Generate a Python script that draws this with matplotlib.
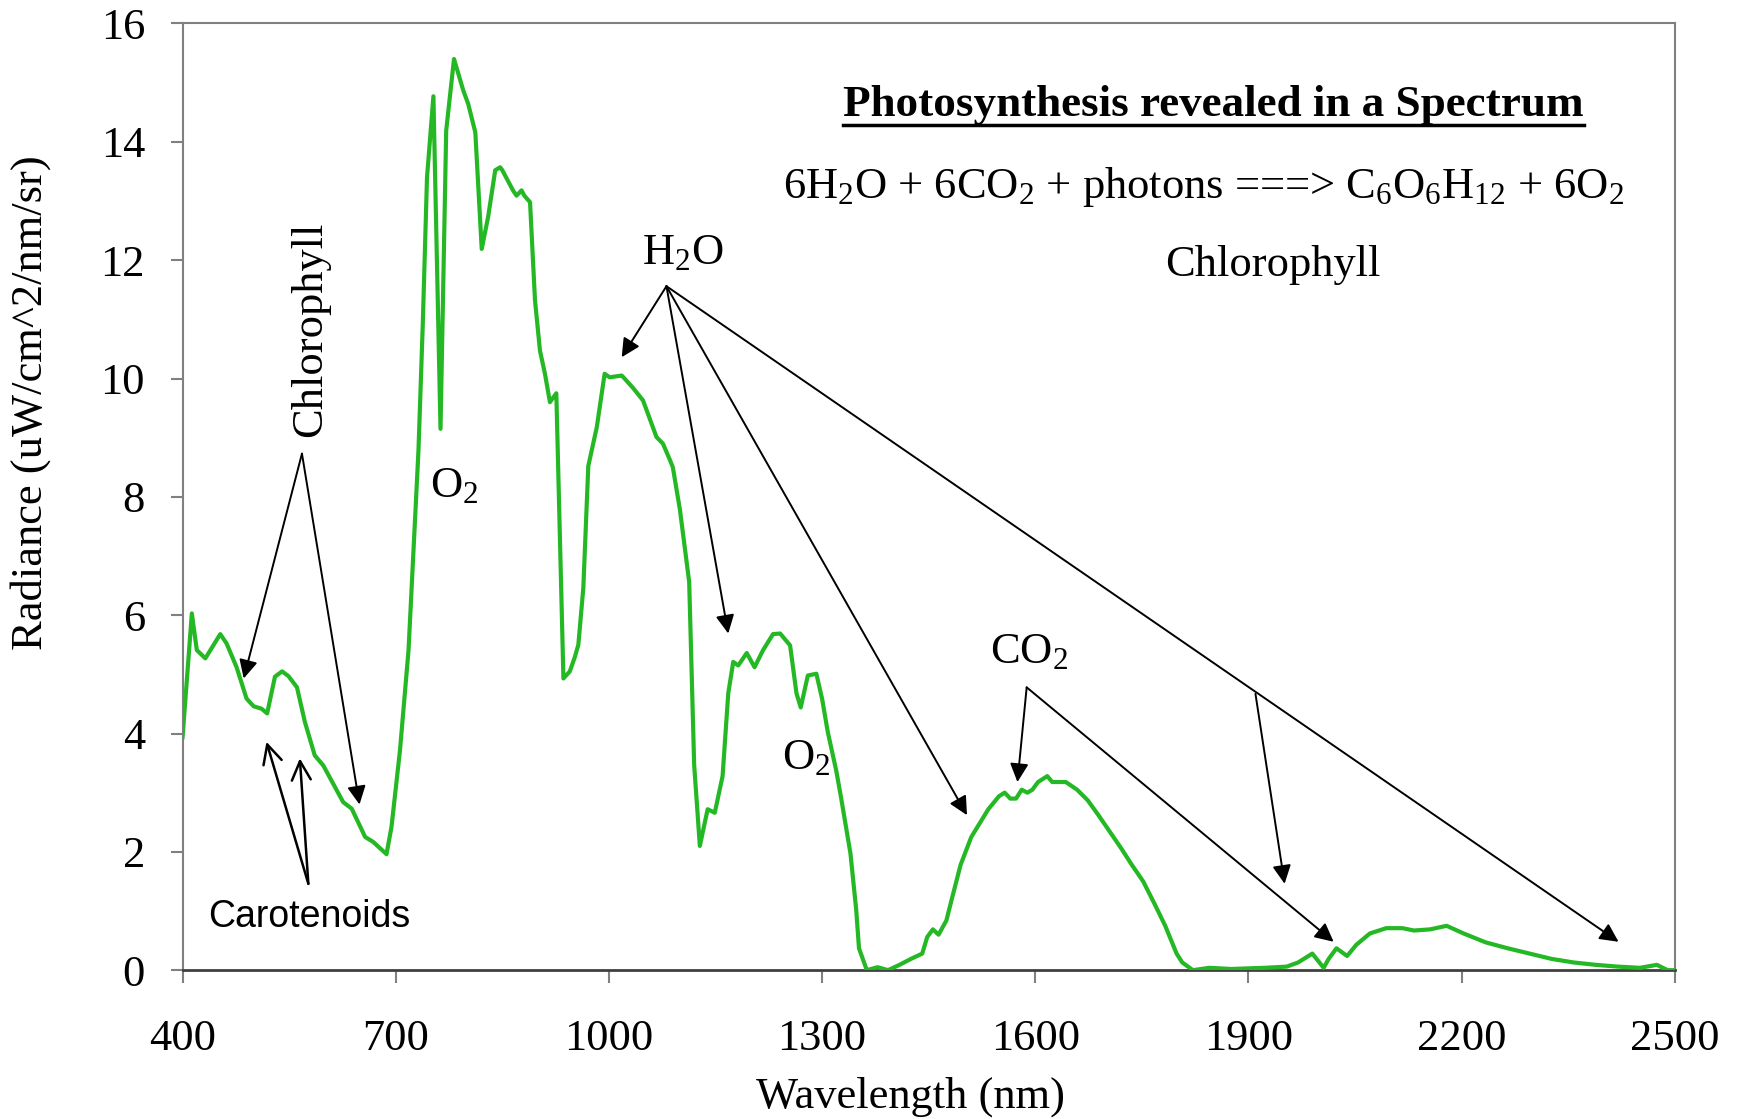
import matplotlib
matplotlib.use('Agg')
import matplotlib.pyplot as plt
from matplotlib.lines import Line2D

# spectrum
wavelength = [400, 413, 420, 432, 453, 462, 476, 490, 500, 511, 519, 530, 540, 549,
              561, 572, 586, 598, 612, 626, 638, 657, 668, 687, 694, 706, 718, 725,
              732, 738, 744, 753, 763, 771, 782, 795, 802, 812, 821, 830, 840, 847,
              850, 865, 870, 877, 881, 889, 896, 903, 910, 915, 917, 926, 936, 945,
              952, 957, 964, 971, 983, 994, 1001, 1018, 1022, 1034, 1048, 1067, 1076,
              1086, 1090, 1100, 1113, 1120, 1128, 1139, 1149, 1160, 1168, 1175, 1182,
              1194, 1205, 1217, 1231, 1241, 1255, 1264, 1270, 1280, 1292, 1300, 1308,
              1320, 1327, 1340, 1348, 1352, 1363, 1378, 1393, 1409, 1425, 1441, 1448,
              1456, 1464, 1475, 1483, 1495, 1510, 1534, 1549, 1557, 1565, 1573, 1581,
              1589, 1596, 1604, 1617, 1624, 1643, 1659, 1674, 1689, 1705, 1721, 1736,
              1752, 1768, 1783, 1799, 1807, 1822, 1845, 1876, 1923, 1954, 1970, 1990,
              2006, 2013, 2024, 2039, 2052, 2071, 2094, 2117, 2133, 2156, 2179, 2203,
              2234, 2265, 2296, 2327, 2358, 2389, 2420, 2451, 2475, 2490, 2500]
radiance = [3.94, 6.03, 5.41, 5.27, 5.68, 5.52, 5.12, 4.59, 4.46, 4.42, 4.34, 4.96, 5.05, 4.97,
            4.78, 4.20, 3.63, 3.46, 3.15, 2.84, 2.73, 2.25, 2.17, 1.96, 2.42, 3.72, 5.41, 7.10,
            8.79, 10.9, 13.4, 14.77, 9.15, 14.19, 15.40, 14.87, 14.64, 14.16, 12.19, 12.73, 13.52, 13.57,
            13.52, 13.18, 13.09, 13.18, 13.09, 12.98, 11.32, 10.47, 10.08, 9.74, 9.60, 9.75, 4.93, 5.05,
            5.29, 5.5, 6.46, 8.52, 9.18, 10.08, 10.02, 10.05, 10.0, 9.84, 9.63, 9.01, 8.90,
            8.62, 8.5, 7.78, 6.56, 3.47, 2.10, 2.72, 2.66, 3.28, 4.68, 5.21, 5.15,
            5.36, 5.12, 5.41, 5.68, 5.69, 5.49, 4.68, 4.44, 4.98, 5.01, 4.59, 4.03,
            3.37, 2.90, 1.97, 1.03, 0.37, 0.0, 0.05, 0.0, 0.09, 0.19, 0.28, 0.56,
            0.69, 0.60, 0.84, 1.22, 1.78, 2.25, 2.72, 2.94, 3.00, 2.90, 2.90, 3.05,
            3.00, 3.05, 3.18, 3.28, 3.18, 3.18, 3.05, 2.87, 2.62, 2.34, 2.06, 1.78,
            1.50, 1.12, 0.75, 0.28, 0.13, 0.0, 0.04, 0.02, 0.04, 0.06, 0.13, 0.28,
            0.04, 0.19, 0.37, 0.24, 0.43, 0.62, 0.71, 0.71, 0.67, 0.69, 0.75, 0.62,
            0.47, 0.37, 0.28, 0.19, 0.13, 0.09, 0.06, 0.04, 0.09, 0.0, 0.0]

x_ticks = [400, 700, 1000, 1300, 1600, 1900, 2200, 2500]
y_ticks = [0, 2, 4, 6, 8, 10, 12, 14, 16]

# annotation anchors (wavelength, radiance)
chl_apex = (568, 8.73)
chl_tips = [(486, 4.93), (649, 2.80)]
car_apex = (577, 1.46)
car_tips = [(518, 3.86), (565, 3.58)]
h2o_apex = (1081, 11.56)
h2o_tips = [(1018, 10.36), (1168, 5.69), (1504, 2.62), (2421, 0.48)]
h2o_branch = ((1910, 4.67), (1951, 1.46))
co2_apex = (1588, 4.78)
co2_tips = [(1575, 3.18), (2020, 0.48)]

plt.rcParams['font.family'] = ['Liberation Serif', 'DejaVu Serif']
plt.rcParams['mathtext.default'] = 'regular'

fig = plt.figure(figsize=(17.39, 11.19), dpi=100)
ax = fig.add_axes([0.105, 0.133, 0.858, 0.846])

ax.plot(wavelength, radiance, color='#25b825', lw=3, zorder=3)

ax.set_xlim(400, 2500)
ax.set_ylim(0, 16)
ax.set_xticks(x_ticks)
ax.set_yticks(y_ticks)
ax.tick_params(labelsize=32, direction='out', length=9, width=1.5, color='#808080')
ax.tick_params(axis='x', pad=26)
ax.tick_params(axis='y', pad=18)
for s in ax.spines.values():
    s.set_color('#808080')
    s.set_linewidth(1.5)
ax.spines['bottom'].set_color('#404040')
ax.spines['bottom'].set_linewidth(2)

ax.set_xlabel('Wavelength (nm)', fontsize=32)
ax.set_ylabel('Radiance (uW/cm^2/nm/sr)', fontsize=32)
ax.xaxis.set_label_coords(0.488, -0.112)
ax.yaxis.set_label_coords(-0.088, 0.60)


def arrow(tip, start, style='-|>', scale=28, lw=1.4):
    ax.annotate('', xy=tip, xytext=start,
                arrowprops=dict(arrowstyle=style, color='black', lw=lw,
                                mutation_scale=scale, shrinkA=0, shrinkB=0),
                zorder=4)


for t in chl_tips:
    arrow(t, chl_apex)
for t in car_tips:
    arrow(t, car_apex, style='->', scale=34, lw=1.8)
for t in h2o_tips:
    arrow(t, h2o_apex)
arrow(h2o_branch[1], h2o_branch[0])
for t in co2_tips:
    arrow(t, co2_apex)

ax.text(579, 10.83, 'Chlorophyll', rotation=90, fontsize=32, ha='center', va='center')
ax.text(578, 0.90, 'Carotenoids', fontsize=27, ha='center', va='center',
        family=['Liberation Sans', 'DejaVu Sans'])
ax.text(1104, 11.93, 'H$_2$O', fontsize=32, ha='center', va='baseline')
ax.text(1591, 5.2, 'CO$_2$', fontsize=32, ha='center', va='baseline')
ax.text(782, 8.0, 'O$_2$', fontsize=32, ha='center', va='baseline')
ax.text(1278, 3.4, 'O$_2$', fontsize=32, ha='center', va='baseline')

title = ax.text(1851, 14.43, 'Photosynthesis revealed in a Spectrum', fontsize=32.5,
                fontweight='bold', ha='center', va='baseline')
ax.text(1837, 13.05, '6H$_2$O + 6CO$_2$ + photons ===> C$_6$O$_6$H$_{12}$ + 6O$_2$',
        fontsize=32, ha='center', va='baseline')
ax.text(1935, 11.74, 'Chlorophyll', fontsize=32, ha='center', va='baseline')

# underline the title
fig.canvas.draw()
bb = title.get_window_extent()
base = ax.transData.transform((1851, 14.43))[1] - 9
W, H = fig.canvas.get_width_height()
fig.add_artist(Line2D([bb.x0 / W, bb.x1 / W], [base / H, base / H],
                      color='black', lw=2.5, transform=fig.transFigure))

fig.savefig('out.png', dpi=100)
